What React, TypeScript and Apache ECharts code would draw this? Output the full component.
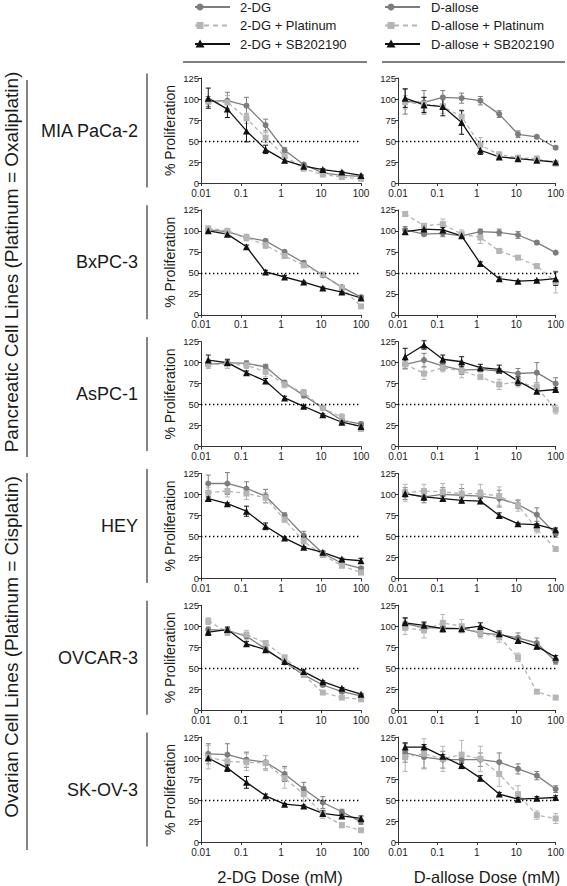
import React, { useEffect, useRef } from "react";
import * as echarts from "echarts";

// ---- data -------------------------------------------------------------
const DOSES = [0.0152, 0.0457, 0.137, 0.412, 1.23, 3.7, 11.1, 33.3, 100];
const X_TICK_LABELS = ["0.01", "0.1", "1", "10", "100"];
const CELL_LINES = ["MIA PaCa-2", "BxPC-3", "AsPC-1", "HEY", "OVCAR-3", "SK-OV-3"];
const GROUPS = ["Pancreatic Cell Lines (Platinum = Oxaliplatin)", "Ovarian Cell Lines (Platinum = Cisplatin)"];
const AXIS_TITLES = ["2-DG Dose (mM)", "D-allose Dose (mM)"];
const LEGEND_LEFT = ["2-DG", "2-DG + Platinum", "2-DG + SB202190"];
const LEGEND_RIGHT = ["D-allose", "D-allose + Platinum", "D-allose + SB202190"];

// MIA PaCa-2
const MIA_DG = [97, 98, 92, 69, 39, 22, 12, 9, 8];
const MIA_DG_E = [6, 10, 10, 7, 3, 2, 2, 1, 1];
const MIA_DG_PT = [97, 96, 77, 54, 32, 17, 10, 7, 5];
const MIA_DG_PT_E = [3, 8, 6, 6, 4, 2, 1, 1, 1];
const MIA_DG_SB = [101, 88, 62, 40, 27, 20, 16, 13, 9];
const MIA_DG_SB_E = [12, 10, 13, 5, 3, 2, 1, 1, 1];
const MIA_AL = [97, 96, 102, 101, 98, 82, 58, 55, 42];
const MIA_AL_E = [15, 14, 8, 6, 5, 4, 4, 2, 2];
const MIA_AL_PT = [96, 94, 91, 79, 45, 34, 30, 29, 23];
const MIA_AL_PT_E = [8, 8, 8, 8, 9, 3, 3, 3, 2];
const MIA_AL_SB = [101, 93, 91, 72, 39, 31, 29, 27, 25];
const MIA_AL_SB_E = [11, 9, 11, 14, 5, 2, 2, 2, 1];
// BxPC-3
const BX_DG = [101, 99, 92, 88, 75, 62, 47, 33, 21];
const BX_DG_E = [2, 2, 3, 2, 2, 2, 2, 1, 2];
const BX_DG_PT = [103, 100, 92, 83, 70, 59, 48, 32, 10];
const BX_DG_PT_E = [2, 2, 4, 4, 3, 3, 2, 1, 1];
const BX_DG_SB = [100, 96, 81, 51, 45, 39, 32, 27, 20];
const BX_DG_SB_E = [2, 2, 2, 2, 2, 1, 1, 1, 2];
const BX_AL = [101, 96, 97, 94, 99, 98, 95, 86, 74];
const BX_AL_E = [4, 2, 4, 3, 3, 4, 4, 2, 1];
const BX_AL_PT = [120, 106, 108, 96, 92, 76, 68, 58, 39];
const BX_AL_PT_E = [3, 2, 6, 5, 7, 3, 2, 3, 13];
const BX_AL_SB = [99, 102, 101, 94, 61, 43, 40, 41, 43];
const BX_AL_SB_E = [3, 2, 3, 2, 2, 2, 1, 1, 8];
// AsPC-1
const AS_DG = [98, 100, 99, 95, 76, 61, 46, 31, 27];
const AS_DG_E = [3, 3, 3, 3, 3, 3, 3, 2, 2];
const AS_DG_PT = [98, 98, 97, 89, 74, 64, 46, 35, 21];
const AS_DG_PT_E = [5, 5, 4, 6, 4, 4, 3, 4, 2];
const AS_DG_SB = [103, 100, 88, 78, 58, 48, 38, 29, 24];
const AS_DG_SB_E = [6, 4, 2, 3, 2, 1, 1, 1, 1];
const AS_AL = [98, 103, 96, 91, 92, 90, 87, 88, 75];
const AS_AL_E = [5, 8, 5, 5, 3, 3, 6, 12, 7];
const AS_AL_PT = [98, 87, 94, 90, 83, 74, 77, 71, 44];
const AS_AL_PT_E = [6, 7, 5, 8, 3, 6, 6, 5, 5];
const AS_AL_SB = [107, 121, 104, 101, 94, 92, 78, 66, 68];
const AS_AL_SB_E = [10, 5, 5, 6, 4, 5, 5, 2, 2];
// HEY
const HEY_DG = [113, 113, 107, 98, 75, 51, 30, 18, 12];
const HEY_DG_E = [10, 13, 8, 8, 3, 5, 3, 2, 2];
const HEY_DG_PT = [102, 104, 101, 96, 70, 44, 28, 15, 7];
const HEY_DG_PT_E = [6, 7, 7, 6, 3, 6, 3, 2, 2];
const HEY_DG_SB = [95, 89, 80, 62, 48, 37, 31, 23, 21];
const HEY_DG_SB_E = [2, 1, 6, 4, 1, 1, 1, 1, 3];
const HEY_AL = [101, 97, 100, 99, 98, 95, 88, 76, 53];
const HEY_AL_E = [7, 7, 8, 8, 7, 10, 5, 8, 4];
const HEY_AL_PT = [102, 104, 103, 101, 101, 98, 87, 59, 35];
const HEY_AL_PT_E = [10, 8, 10, 11, 11, 11, 7, 5, 3];
const HEY_AL_SB = [101, 97, 95, 93, 92, 75, 65, 64, 58];
const HEY_AL_SB_E = [4, 4, 3, 3, 3, 3, 1, 1, 2];
// OVCAR-3
const OV_DG = [96, 95, 88, 73, 57, 42, 30, 22, 17];
const OV_DG_E = [3, 3, 3, 2, 2, 2, 2, 2, 2];
const OV_DG_PT = [106, 93, 90, 80, 63, 42, 21, 15, 13];
const OV_DG_PT_E = [4, 4, 5, 3, 2, 2, 2, 1, 1];
const OV_DG_SB = [93, 96, 79, 72, 58, 46, 34, 26, 19];
const OV_DG_SB_E = [4, 3, 3, 2, 2, 2, 1, 1, 1];
const OV_AL = [103, 98, 98, 97, 92, 90, 86, 80, 58];
const OV_AL_E = [6, 5, 5, 4, 4, 5, 6, 6, 3];
const OV_AL_PT = [98, 95, 104, 100, 92, 87, 63, 22, 15];
const OV_AL_PT_E = [8, 9, 10, 8, 6, 6, 5, 2, 1];
const OV_AL_SB = [104, 101, 97, 97, 100, 91, 83, 76, 63];
const OV_AL_SB_E = [6, 4, 3, 3, 4, 2, 3, 3, 2];
// SK-OV-3
const SK_DG = [105, 104, 98, 95, 81, 63, 47, 36, 24];
const SK_DG_E = [12, 13, 9, 8, 9, 8, 7, 3, 3];
const SK_DG_PT = [101, 96, 95, 94, 76, 57, 33, 20, 14];
const SK_DG_PT_E = [14, 9, 10, 9, 12, 9, 5, 3, 2];
const SK_DG_SB = [100, 88, 71, 55, 45, 43, 34, 31, 28];
const SK_DG_SB_E = [3, 4, 7, 2, 1, 1, 3, 2, 3];
const SK_AL = [106, 101, 98, 98, 98, 95, 87, 79, 63];
const SK_AL_E = [11, 13, 10, 8, 8, 11, 6, 5, 4];
const SK_AL_PT = [101, 105, 99, 104, 99, 81, 57, 32, 28];
const SK_AL_PT_E = [17, 18, 15, 17, 15, 15, 10, 5, 6];
const SK_AL_SB = [113, 113, 102, 91, 76, 57, 51, 52, 53];
const SK_AL_SB_E = [5, 3, 2, 3, 3, 2, 2, 2, 2];

// panels in row-major order: [control, platinum, SB202190], each [values, errors]
const PANELS = [
  [[MIA_DG, MIA_DG_E], [MIA_DG_PT, MIA_DG_PT_E], [MIA_DG_SB, MIA_DG_SB_E]],
  [[MIA_AL, MIA_AL_E], [MIA_AL_PT, MIA_AL_PT_E], [MIA_AL_SB, MIA_AL_SB_E]],
  [[BX_DG, BX_DG_E], [BX_DG_PT, BX_DG_PT_E], [BX_DG_SB, BX_DG_SB_E]],
  [[BX_AL, BX_AL_E], [BX_AL_PT, BX_AL_PT_E], [BX_AL_SB, BX_AL_SB_E]],
  [[AS_DG, AS_DG_E], [AS_DG_PT, AS_DG_PT_E], [AS_DG_SB, AS_DG_SB_E]],
  [[AS_AL, AS_AL_E], [AS_AL_PT, AS_AL_PT_E], [AS_AL_SB, AS_AL_SB_E]],
  [[HEY_DG, HEY_DG_E], [HEY_DG_PT, HEY_DG_PT_E], [HEY_DG_SB, HEY_DG_SB_E]],
  [[HEY_AL, HEY_AL_E], [HEY_AL_PT, HEY_AL_PT_E], [HEY_AL_SB, HEY_AL_SB_E]],
  [[OV_DG, OV_DG_E], [OV_DG_PT, OV_DG_PT_E], [OV_DG_SB, OV_DG_SB_E]],
  [[OV_AL, OV_AL_E], [OV_AL_PT, OV_AL_PT_E], [OV_AL_SB, OV_AL_SB_E]],
  [[SK_DG, SK_DG_E], [SK_DG_PT, SK_DG_PT_E], [SK_DG_SB, SK_DG_SB_E]],
  [[SK_AL, SK_AL_E], [SK_AL_PT, SK_AL_PT_E], [SK_AL_SB, SK_AL_SB_E]],
];

// ---- style ------------------------------------------------------------
const FONT = "'Liberation Sans', Arial, Helvetica, sans-serif";
const COLORS = ["#7d7d7d", "#b5b5b5", "#111111"];
const SYMBOLS = ["circle", "rect", "triangle"];
const SYMBOL_SIZES = [6, 6, 7];
const AXIS_COLOR = "#333";
const TEXT_COLOR = "#1a1a1a";
const COL_LEFT = [201, 398];
const PLOT_W = 160;
const PLOT_H = 105;
const ROW_TOP0 = 78;
const ROW_STEP = 131.8;

function buildOption() {
  const grid: any[] = [];
  const xAxis: any[] = [];
  const yAxis: any[] = [];
  const series: any[] = [];

  PANELS.forEach((panel, i) => {
    const r = Math.floor(i / 2);
    const c = i % 2;
    grid.push({ left: COL_LEFT[c], top: ROW_TOP0 + r * ROW_STEP, width: PLOT_W, height: PLOT_H });
    xAxis.push({
      type: "log",
      logBase: 10,
      gridIndex: i,
      min: 0.01,
      max: 100,
      axisLine: { show: true, lineStyle: { color: AXIS_COLOR, width: 1 } },
      axisTick: { show: true, length: 3, lineStyle: { color: AXIS_COLOR } },
      axisLabel: {
        fontSize: 10,
        color: TEXT_COLOR,
        margin: 5,
        fontFamily: FONT,
        formatter: (v: number) => X_TICK_LABELS[Math.round(Math.log10(v)) + 2] ?? "",
      },
      splitLine: { show: false },
      minorTick: { show: false },
    });
    yAxis.push({
      type: "value",
      gridIndex: i,
      min: 0,
      max: 125,
      interval: 25,
      name: c === 0 ? "% Proliferation" : "",
      nameLocation: "middle",
      nameGap: 24,
      nameRotate: 90,
      nameTextStyle: { fontSize: 14, color: TEXT_COLOR, fontFamily: FONT },
      axisLine: { show: true, lineStyle: { color: AXIS_COLOR, width: 1 } },
      axisTick: { show: true, length: 3, lineStyle: { color: AXIS_COLOR } },
      axisLabel: { fontSize: 9.5, color: TEXT_COLOR, margin: 2, fontFamily: FONT },
      splitLine: { show: false },
    });

    panel.forEach(([vals, errs], s) => {
      const color = COLORS[s];
      series.push({
        type: "custom",
        xAxisIndex: i,
        yAxisIndex: i,
        clip: false,
        z: 2,
        encode: { x: 0, y: 1 },
        data: DOSES.map((d, k) => [d, vals[k], errs[k]]),
        renderItem: (_p: any, api: any) => {
          const x = api.value(0);
          const y = api.value(1);
          const e = api.value(2);
          const top = api.coord([x, y + e]);
          const bot = api.coord([x, Math.max(y - e, 0.0001)]);
          const cap = 2.5;
          const st = { stroke: color, lineWidth: 1 };
          return {
            type: "group",
            children: [
              { type: "line", shape: { x1: top[0], y1: top[1], x2: bot[0], y2: bot[1] }, style: st },
              { type: "line", shape: { x1: top[0] - cap, y1: top[1], x2: top[0] + cap, y2: top[1] }, style: st },
              { type: "line", shape: { x1: bot[0] - cap, y1: bot[1], x2: bot[0] + cap, y2: bot[1] }, style: st },
            ],
          };
        },
      });
      const line: any = {
        type: "line",
        xAxisIndex: i,
        yAxisIndex: i,
        z: 3,
        data: DOSES.map((d, k) => [d, vals[k]]),
        symbol: SYMBOLS[s],
        symbolSize: SYMBOL_SIZES[s],
        showAllSymbol: true,
        itemStyle: { color },
        lineStyle: { color, width: 1.3, type: s === 1 ? [4, 3] : "solid" },
      };
      if (s === 0) {
        line.markLine = {
          silent: true,
          symbol: "none",
          label: { show: false },
          lineStyle: { color: "#000", width: 1.4, type: [1.4, 2.6] },
          data: [{ yAxis: 50 }],
        };
      }
      series.push(line);
    });
  });

  // ---- graphic: legend, labels, brackets ----
  const graphic: any[] = [];
  const legendRows = [7, 25.5, 44];
  const legendCols = [
    { x1: 195, x2: 230, mx: 200, tx: 240, names: LEGEND_LEFT },
    { x1: 385, x2: 420, mx: 391, tx: 431, names: LEGEND_RIGHT },
  ];
  legendCols.forEach((col) => {
    col.names.forEach((name, s) => {
      const y = legendRows[s];
      const color = COLORS[s];
      graphic.push({
        type: "line",
        shape: { x1: col.x1, y1: y, x2: col.x2, y2: y },
        style: { stroke: color, lineWidth: 2, lineDash: s === 1 ? [5, 4] : null },
      });
      if (s === 0) {
        graphic.push({ type: "circle", shape: { cx: col.mx, cy: y, r: 3.5 }, style: { fill: color } });
      } else if (s === 1) {
        graphic.push({ type: "rect", shape: { x: col.mx - 3.5, y: y - 3.5, width: 7, height: 7 }, style: { fill: color } });
      } else {
        graphic.push({
          type: "polygon",
          shape: { points: [[col.mx, y - 4.5], [col.mx - 4.5, y + 3.5], [col.mx + 4.5, y + 3.5]] },
          style: { fill: color },
        });
      }
      graphic.push({
        type: "text",
        x: col.tx,
        y,
        style: { text: name, fontSize: 13, fontFamily: FONT, fill: TEXT_COLOR, textAlign: "left", textVerticalAlign: "middle" },
      });
    });
  });
  // top separators
  graphic.push({ type: "line", shape: { x1: 183, y1: 62, x2: 367, y2: 62 }, style: { stroke: "#555", lineWidth: 1.5 } });
  graphic.push({ type: "line", shape: { x1: 382, y1: 62, x2: 565, y2: 62 }, style: { stroke: "#555", lineWidth: 1.5 } });

  // cell line labels + brackets
  CELL_LINES.forEach((name, r) => {
    const cy = ROW_TOP0 + r * ROW_STEP + PLOT_H / 2;
    graphic.push({
      type: "text",
      x: 138,
      y: cy,
      style: { text: name, fontSize: 18, fontFamily: FONT, fill: TEXT_COLOR, textAlign: "right", textVerticalAlign: "middle" },
    });
    graphic.push({
      type: "line",
      shape: { x1: 147, y1: cy - 57, x2: 147, y2: cy + 57 },
      style: { stroke: AXIS_COLOR, lineWidth: 1.2 },
    });
  });

  // group labels
  const groupSpans = [
    { y1: 80, y2: 457, ty: 262 },
    { y1: 473, y2: 850, ty: 647 },
  ];
  GROUPS.forEach((name, g) => {
    const sp = groupSpans[g];
    graphic.push({
      type: "line",
      shape: { x1: 27, y1: sp.y1, x2: 27, y2: sp.y2 },
      style: { stroke: AXIS_COLOR, lineWidth: 1.2 },
    });
    graphic.push({
      type: "text",
      x: 11,
      y: sp.ty,
      rotation: Math.PI / 2,
      style: { text: name, fontSize: 19, fontFamily: FONT, fill: TEXT_COLOR, textAlign: "center", textVerticalAlign: "middle" },
    });
  });

  // bottom axis titles
  const titleX = [280, 487];
  AXIS_TITLES.forEach((t, c) => {
    graphic.push({
      type: "text",
      x: titleX[c],
      y: 877,
      style: { text: t, fontSize: 16.5, fontFamily: FONT, fill: TEXT_COLOR, textAlign: "center", textVerticalAlign: "middle" },
    });
  });

  return {
    animation: false,
    backgroundColor: "#fff",
    textStyle: { fontFamily: FONT },
    grid,
    xAxis,
    yAxis,
    series,
    graphic,
  };
}

export default function App() {
  const ref = useRef<HTMLDivElement>(null);
  useEffect(() => {
    if (!ref.current) return;
    const chart = echarts.init(ref.current, null, { renderer: "svg", width: 567, height: 886 });
    chart.setOption(buildOption() as any);
    return () => chart.dispose();
  }, []);
  return (
    <div
      ref={ref}
      style={{ position: "fixed", left: 0, top: 0, width: 567, height: 886, background: "#fff" }}
    />
  );
}
